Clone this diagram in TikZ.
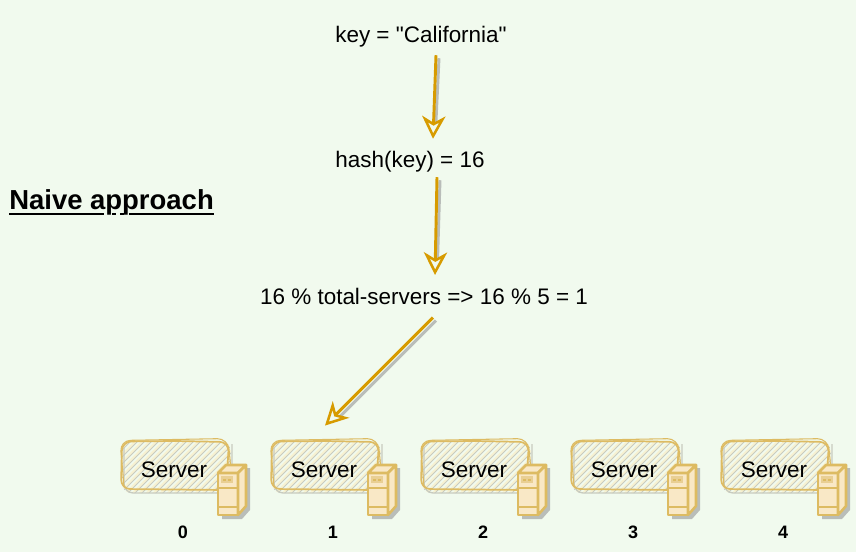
\documentclass[tikz,border=0pt]{standalone}
\usepackage{fontspec}
\newfontfamily\plainf{Liberation Sans}
\usetikzlibrary{arrows.meta}
\definecolor{bgc}{HTML}{F1FAEE}
\definecolor{arrowc}{HTML}{D79B00}
\definecolor{srvline}{HTML}{DDBB62}
\definecolor{srvfill}{HTML}{F9E8C6}
\definecolor{srvdark}{HTML}{E9CF94}
\definecolor{shadowc}{HTML}{B9BDB9}
\definecolor{hatchc}{HTML}{C8CBBF}
\definecolor{hatchb}{HTML}{F7F2D2}
\tikzset{
  x=0.75pt,y=-0.75pt,
  label/.style={font=\plainf\fontsize{16.85}{20}\selectfont,inner sep=0pt,text=black},
  idx/.style={font=\plainf\fontsize{13.5}{16}\selectfont\bfseries,inner sep=0pt,text=black},
  title/.style={font=\plainf\fontsize{20.6}{24}\selectfont\bfseries,inner sep=0pt,text=black},
  uline/.style={black,line width=1.5pt},
  flow/.style={draw=arrowc,line width=2.2pt,-{Stealth[open,fill=bgc,length=17pt,width=17.5pt,inset=5pt,line width=1.9pt]}},
  flowshadow/.style={draw=shadowc,line width=2.2pt,shorten >=12pt},
  srvbox/.style={draw=none,minimum width=81pt,minimum height=37pt,inner sep=0pt},
  srvedge/.style={draw=srvline,line width=1.3pt,rounded corners=7pt},
  hatchline/.style={line width=0.7pt},
  icon/.style={draw=srvline,fill=srvfill,line width=1.9pt,line join=round},
}
\begin{document}
\begin{tikzpicture}
\useasboundingbox (0,0) rectangle (856,552);
\fill[bgc] (0,0) rectangle (856,552);

\node[title,anchor=west] (ttl) at (9,202) {Naive approach};
\coordinate (ul) at ([yshift=1.1pt]ttl.south west);
\draw[uline] (ul) -- ([xshift=71.5pt]ul);
\draw[uline] ([xshift=77.5pt]ul) -- ([xshift=80pt]ul);
\draw[uline] ([xshift=83.5pt]ul) -- ([xshift=86pt]ul);
\draw[uline] ([xshift=90pt]ul) -- ([yshift=1.1pt]ttl.south east);

\node[label] (key) at (421,36.5) {key = "California"};
\node[label] (hash) at (410,161.5) {hash(key) = 16};
\node[label] (mod) at (424,296.5) {16 \% total-servers => 16 \% 5 = 1};

\foreach \i [evaluate=\i as \dx using 150*\i] in {0,...,4}{
  \begin{scope}[xshift=\dx*0.75pt]
    \begin{scope}
      \clip[rounded corners=7pt] (122,442) rectangle (231,493);
      \foreach \k in {-63,-56,...,119}{
        \draw[hatchb,line width=1.6pt] (116+\k,496) -- (116+\k+58,438);
        \draw[hatchc,hatchline] (111+\k,496) -- (111+\k+58,438);
      }
    \end{scope}
    \draw[hatchc,line width=1pt,rounded corners=7pt] (124,448) -- (124,493) -- (232,493) -- (232,444);
    \draw[srvedge] (175,441) -- (122,441.5) -- (121,489) -- (226,490) -- (229,442) -- (175,441);
    \draw[srvline,line width=0.8pt,rounded corners=8pt] (124,486) -- (120,440.5) -- (228,438.5) -- (231,470);
  \end{scope}
  \node[srvbox] (box\i) at (\dx+175,465.5) {};
  \node[label] (srv\i) at (\dx+174,470) {Server};
  \begin{scope}[xshift=\dx*0.75pt]
    \fill[shadowc] (222,476) -- (230,468) -- (250,468) -- (250,510) -- (242,519) -- (222,519) -- cycle;
    \draw[icon] (218,473) rectangle (238,515);
    \draw[icon] (218,473) -- (226,465) -- (246,465) -- (238,473) -- cycle;
    \draw[icon] (238,473) -- (246,465) -- (246,506) -- (238,515) -- cycle;
    \draw[srvline,line width=1.7pt] (218,488) -- (238,488);
    \draw[srvline,line width=1.7pt] (218,507) -- (238,507);
    \fill[srvdark] (221,476) rectangle (233,483);
    \fill[srvline] (223,478.5) rectangle (225.5,481);
    \fill[srvline] (228,478.5) rectangle (230.5,481);
  \end{scope}
  \node[idx] (idx\i) at (\dx+183,532) {\i};
}

\coordinate (a1) at ([shift={(15,8)}]key.south);
\coordinate (a2) at ([shift={(23,-12)}]hash.north);
\coordinate (b1) at ([shift={(27,5)}]hash.south);
\coordinate (b2) at ([shift={(11,-13)}]mod.north);
\coordinate (c1) at ([shift={(9,12.5)}]mod.south);
\coordinate (c2) at ([shift={(0,-15)}]box1.north);

\draw[flowshadow] ([shift={(3,3)}]a1) -- ([shift={(2,3)}]a2);
\draw[flowshadow] ([shift={(3,3)}]b1) -- ([shift={(2,3)}]b2);
\draw[flowshadow] ([shift={(3,3)}]c1) -- ([shift={(3,3)}]c2);
\draw[flow] (a1) -- (a2);
\draw[flow] (b1) -- (b2);
\draw[flow] (c1) -- (c2);
\end{tikzpicture}
\end{document}
